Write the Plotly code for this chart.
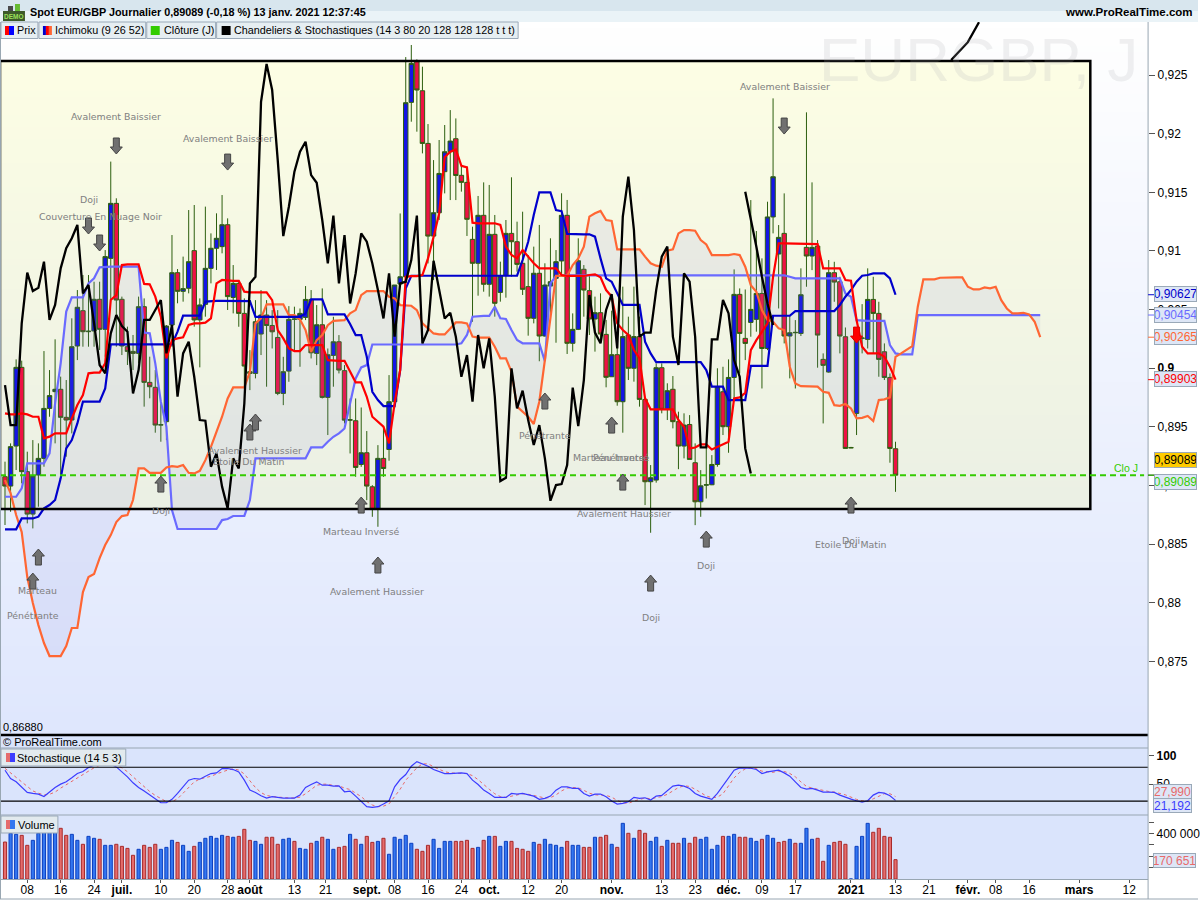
#!/usr/bin/env python3
"""Spot EUR/GBP journalier: bougies, Ichimoku, stochastique et volume"""

import plotly.graph_objects as go

# bougies journalieres (juin 2020 - 13 janv. 2021)
opens = [
    .89076, .88996, .89337, .90008, .89119, .88757, .8909, .89232, .89658, .89801,
    .89821, .89582, .89559, .9019, .90491, .90312, .90318, .90588, .90332, .90937,
    .91406, .90588, .90184, .90144, .90127, .90525, .8988, .89838, .89516, .89545,
    .90369, .90815, .90656, .90682, .91003, .90412, .90545, .90852, .91023, .91037,
    .91224, .90604, .90724, .90468, .89956, .89956, .90292, .90454, .90365, .90263,
    .89786, .89976, .90417, .90417, .90434, .90587, .90127, .90371, .89752, .9011,
    .90226, .8998, .89558, .89553, .8918, .8928, .8899, .88797, .89232, .89308,
    .89715, .90718, .9078, .92267, .92614, .92366, .91917, .91127, .91326, .91676,
    .91846, .91957, .91645, .91585, .91099, .90895, .91304, .90716, .91142, .90647,
    .90792, .9115, .91079, .90895, .90696, .90426, .9081, .90275, .90701, .90767,
    .90915, .91304, .90213, .90332, .90844, .90662, .9042, .90474, .90289, .89928,
    .90116, .89715, .90284, .9, .9027, .89735, .89033, .89047, .90005, .8965,
    .89821, .89545, .89337, .89521, .89195, .88862, .89004, .89007, .8918, .898,
    .89502, .89922, .9063, .90255, .90391, .90417, .90638, .90169, .9129, .90974,
    .9115, .90275, .90303, .90297, .91031, .90957, .91042, .90076, .89968, .90815,
    .90738, .90269, .89325, .89615, .90255, .90246, .90587, .90468, .90141, .89922,
    .89314,
]
highs = [
    .89204, .8936, .90076, .90065, .89289, .89388, .8936, .90147, .89985, .90247,
    .89929, .899, .90426, .90667, .90795, .90795, .90738, .90738, .91008, .91762,
    .91449, .90611, .90355, .90284, .90611, .90596, .90099, .89985, .89701, .90369,
    .91136, .90846, .90952, .91349, .91392, .90596, .91378, .9115, .91321, .91477,
    .91278, .9088, .90752, .90596, .90155, .90581, .90667, .90581, .90496, .90496,
    .90098, .9053, .90525, .9051, .90701, .90667, .90539, .90681, .90169, .90439,
    .90283, .90027, .89743, .89743, .89666, .89465, .89004, .89345, .89502, .89942,
    .9071, .9132, .92653, .92756, .92633, .92571, .92082, .91775, .91946, .92074,
    .92201, .9213, .91733, .91719, .91207, .91469, .91585, .91563, .91307, .90909,
    .91264, .91628, .9125, .91335, .90966, .91037, .91222, .90895, .91108, .91008,
    .91492, .91435, .90468, .91108, .9088, .90795, .90611, .90639, .90412, .90491,
    .9027, .90696, .9044, .90696, .9044, .89744, .89175, .90042, .90042, .89872,
    .89934, .8963, .89616, .89601, .8936, .89132, .89345, .8926, .9, .90013,
    .90076, .90843, .90681, .90672, .91434, .9117, .90937, .9142, .92301, .91221,
    .91491, .90454, .90411, .90852, .92182, .91585, .91093, .90127, .90923, .90908,
    .9078, .90348, .8933, .90312, .90547, .90852, .9078, .90567, .90212, .89956,
    .89374,
]
lows = [
    .88664, .88777, .89133, .89019, .88678, .88635, .8882, .89161, .89587, .8936,
    .8909, .89246, .89445, .9007, .90184, .90184, .90184, .90156, .90099, .90582,
    .90184, .90113, .90028, .89985, .90042, .89673, .89744, .89451, .89374, .89388,
    .90184, .90554, .90568, .90639, .90355, .90008, .9044, .90724, .90838, .9098,
    .90497, .90468, .90354, .89828, .89814, .89914, .90113, .89843, .90169, .89771,
    .89686, .89885, .9014, .90013, .90411, .90084, .90027, .89743, .89431, .89843,
    .89956, .8953, .89274, .89075, .8916, .88876, .88734, .88649, .89075, .89212,
    .89658, .90718, .90724, .92102, .92017, .91832, .90894, .90752, .91264, .91491,
    .91434, .91434, .91506, .91128, .90397, .90619, .90653, .90611, .9044, .90568,
    .90602, .90781, .90824, .90625, .90278, .90383, .9006, .9027, .9044, .90218,
    .90787, .90122, .90142, .90326, .9044, .90284, .90142, .90227, .89838, .89928,
    .89681, .89451, .899, .89886, .89673, .88834, .88598, .89025, .89616, .89559,
    .89488, .8914, .89232, .89223, .88663, .88734, .8889, .89004, .89161, .89431,
    .8928, .89743, .89956, .9007, .90269, .90312, .89828, .90155, .9115, .9051,
    .90212, .89914, .89828, .90275, .90695, .90837, .90005, .8953, .89962, .90567,
    .90127, .89317, .8932, .89431, .90127, .90169, .90127, .89928, .899, .89195,
    .88947,
]
closes = [
    .88996, .89332, .90008, .89119, .88757, .89082, .89232, .89658, .89767, .89821,
    .89582, .89559, .90184, .9052, .90312, .90316, .90588, .90332, .90952, .91406,
    .90582, .9019, .90144, .90127, .90525, .8988, .89843, .89516, .89519, .9036,
    .90815, .90656, .90679, .90909, .90412, .9054, .90852, .91023, .91108, .91224,
    .90611, .90724, .90468, .90019, .89971, .90397, .90454, .90365, .90311, .89786,
    .89971, .90417, .9042, .90468, .90587, .90132, .90371, .89752, .90115, .90226,
    .89985, .89558, .89561, .89155, .8928, .88996, .88797, .89232, .89146, .89715,
    .9071, .9078, .92264, .92599, .92372, .91917, .91127, .91326, .91661, .91846,
    .91937, .91644, .91585, .9127, .90895, .91304, .90716, .91142, .90554, .90787,
    .9115, .91079, .90886, .90673, .90426, .9081, .90275, .9071, .90738, .90909,
    .91304, .90213, .90332, .90917, .90667, .9042, .90474, .90292, .89923, .90116,
    .89715, .9027, .9, .9027, .89735, .89033, .89067, .90005, .8965, .89809,
    .89545, .89337, .89516, .89223, .88862, .88998, .89007, .8918, .89843, .89502,
    .89922, .9063, .90297, .90212, .90502, .90638, .90169, .9129, .91633, .91116,
    .90275, .90303, .90306, .90627, .90957, .91031, .90283, .90025, .90815, .90735,
    .90275, .89317, .89322, .90246, .90258, .90587, .90468, .90076, .89922, .89317,
    .89089,
]

# Ichimoku (9 26 52)
tenkan = [
    .89616, .89607, .89607, .89616, .89607, .89587, .89587, .89403, .89417, .89445,
    .89445, .89445, .89573, .89687, .89772, .89957, .89963, .89963, .90042, .90582,
    .90625, .9088, .90886, .90886, .90886, .90719, .90716, .90611, .9044, .90085,
    .90241, .90255, .90264, .90369, .90383, .90383, .90389, .90426, .90724, .90753,
    .90747, .90746, .90746, .90653, .90647, .90647, .90647, .90647, .90581, .90326,
    .90255, .90169, .90147, .90147, .90198, .90198, .90198, .90198, .9007, .90064,
    .90064, .90064, .89971, .8988, .8988, .89757, .89587, .89544, .89502, .8936,
    .89701, .89985, .9078, .90786, .90786, .90795, .90937, .91119, .9132, .918,
    .91846, .91866, .91725, .91713, .91241, .91236, .91236, .91236, .91236, .91222,
    .91037, .90966, .90937, .91008, .90952, .90895, .90852, .90852, .90852, .90852,
    .90795, .90787, .90787, .90787, .90787, .90795, .90801, .90775, .90667, .90611,
    .90383, .90326, .90284, .90156, .90085, .89744, .8965, .8965, .8965, .8965,
    .8965, .89559, .89502, .89317, .89325, .89351, .89351, .89308, .89331, .89351,
    .89374, .89743, .89752, .89791, .90155, .9024, .90312, .90383, .9078, .91065,
    .91065, .91065, .91065, .91065, .91065, .91065, .91059, .90852, .90852, .90852,
    .90852, .90752, .90746, .90411, .90184, .90127, .90127, .90127, .90098, .90013,
    .89903,
]
kijun = (
    [.88627, .88627, .88627, .8872, .8872, .8872, .88735, .88806, .88834, .88877,
     .89062, .89317, .89388, .8953, .89715, .89715, .89715, .89715, .89829]
    + [.90204] * 12
    + [.90312, .90449, .90449, .90449, .90449, .90568, .90574, .90574, .90574, .90574]
    + [.90573] * 4 + [.90439] * 9
    + [.90468, .90587, .90587, .90587, .90459, .90459, .90459, .90459, .90377, .90283,
       .90283, .90098, .898, .89729, .89678, .89678, .89678, .89985, .90681]
    + [.90789] * 20
    + [.90923, .91079, .91307, .915, .915, .915, .91349, .9134, .91145, .91142,
       .91142, .91142, .91142, .91122, .90937, .90767, .90738, .90639, .9054, .9054,
       .9054, .9054, .90227, .90127]
    + [.90053] * 9
    + [.89985, .89843, .89843, .89843, .89729, .89729, .89729, .89729, .9002, .9002,
       .9002, .9002, .90448, .90448, .90448, .90448]
    + [.90488] * 8
    + [.9054, .9061, .90667, .90738, .90789, .90795, .90809, .90809, .90809, .90766,
       .90627]
)
senkou_a = [
    .89047, .88936, .88749, .88604, .8822, .87999, .87811, .87658, .87547, .87547,
    .87547, .87632, .87786, .87786, .88093, .8822, .88246, .88382, .88493, .88578,
    .88689, .8874, .88749, .88877, .89146, .89146, .89109, .89109, .89109, .89155,
    .89166, .8916, .89175, .89109, .89104, .89126, .89217, .89331, .89459, .89587,
    .89743, .89837, .89837, .89837, .89971, .90383, .90425, .90545, .90545, .90545,
    .90545, .90454, .90454, .90417, .90326, .9014, .9024, .90283, .90368, .90405,
    .90405, .90411, .90468, .90496, .90624, .90658, .90658, .90658, .90658, .9061,
    .90596, .90539, .90539, .90533, .90496, .90383, .9034, .90297, .90289, .90289,
    .9034, .90391, .90392, .90383, .9027, .90261, .90261, .90261, .90184, .90085,
    .90085, .89971, .89673, .8963, .89587, .89525, .89715, .9007, .9044, .90787,
    .90787, .90787, .9088, .90937, .91037, .91293, .91321, .91341, .91264, .91256,
    .91014, .91014, .91014, .91014, .91014, .90952, .90895, .90875, .90866, .91003,
    .91014, .9115, .91179, .91178, .91173, .91093, .91056, .90965, .90965, .90965,
    .90965, .90974, .90965, .90866, .90709, .90653, .90496, .90411, .90397, .9034,
    .90326, .90013, .89871, .89848, .89848, .89848, .89843, .898, .89791, .89686,
    .8968, .89695, .89658, .89573, .89578, .89593, .8955, .89729, .89735, .89752,
    .90098, .90127, .90155, .90189, .90525, .90758, .90758, .90758, .90772, .90775,
    .90775, .90775, .90775, .90695, .90672, .90672, .90689, .90681, .90695, .90581,
    .9051, .90468, .90468, .90473, .90459, .90397, .90265,
]
senkou_b = (
    [.88905, .88905, .88905, .88976, .8919, .8919, .8919, .8919, .89275, .89701,
     .90042, .90483, .90605, .90605, .90605, .90724, .90767, .90861]
    + [.90866] * 7
    + [.90304, .90298, .90042, .89715, .89502, .88792]
    + [.8863] * 8
    + [.88706, .88715, .88741, .88741, .88741, .88877]
    + [.89232] * 10
    + [.89325, .89325, .89325, .89374, .89416, .89445, .89487, .897, .89914, .90007,
       .90027]
    + [.90203] * 16
    + [.90213, .90284, .9044, .90446, .90446, .90446, .90525, .90426, .9042, .90326,
       .90241, .90213, .90213, .90213, .90213, .9006, .90724, .90787]
    + [.90792] * 41
    + [.9078]
    + [.90766] * 9
    + [.90638, .9061, .90411, .90405, .90405, .90405, .90405, .90405, .90198, .90127,
       .90118, .90118, .90118]
    + [.90454] * 23
)

# Chandeliers & Stochastiques
black_line = [
    .89857, .89516, .89516, .90383, .90815, .90659, .90687, .90909, .90412, .9054,
    .90852, .91023, .91108, .91222, .90639, .9071, .90383, .90028, .89957, .90298,
    .90454, .9036, .90312, .89786, .89985, .90412, .90412, .90497, .90582, .90127,
    .90369, .89758, .90127, .90227, .89928, .89559, .89553, .89161, .89275, .88991,
    .88806, .89232, .89146, .897, .90724, .9078, .92272, .92594, .92372, .91775,
    .91127, .91377, .91676, .91846, .91931, .91647, .91582, .91264, .90894, .91301,
    .90724, .91136, .90553, .90809, .9115, .91079, .90894, .90667, .90425, .90809,
    .90269, .90724, .90738, .90923, .91301, .90212, .90326, .90917, .90667, .90425,
    .90473, .90269, .89928, .90113, .89715, .90284, .9, .90255, .89758, .89039,
    .89067, .9, .89658, .89809, .89559, .89346, .89516, .89232, .88871, .89005,
    .89013, .89175, .89835, .89508, .899, .90625, .90304, .90213, .90497, .90633,
    .9017, .91293, .91634, .91179, .9027, .90304, .90304, .90667, .90952, .91037,
    .9027, .90028, .9081, .90738, .90269, .89325, .89325, .90246, .90246, .90582,
    .90468, .9007, .89928, .89317, .89104,
]
black_line2 = [.91505, .91278, .91036, .9078, .90553, .90368]
black_line2_start = 133
black_line3 = [.92628, .9278, .9295]
black_line3_bars = [170, 173, 175]

# Stochastique (14 5 3)
stoch_k = [
    74.7, 60, 54.1, 45.3, 35.3, 33.5, 32.4, 28.2, 36.5, 44.1,
    50, 54.1, 61.2, 68.8, 72.4, 79.4, 83.5, 86.5, 86.5, 85.3,
    80.6, 71.8, 63, 52.4, 44.1, 37.7, 30.6, 23.5, 17, 17,
    23, 33.5, 45.3, 57.1, 60, 58.8, 64.1, 68.8, 70, 77.7,
    77.7, 75.9, 71.8, 57.1, 39.4, 35.3, 29.4, 25.3, 27.7, 25.9,
    25.3, 25.3, 25.3, 30.6, 44.1, 49.4, 54.1, 48.2, 48.2, 46.5,
    47, 36.5, 37.7, 28.8, 18.8, 10, 8.8, 10, 14.7, 20.6,
    45.3, 58.2, 67.1, 81.8, 90, 86.5, 81.8, 75.9, 71.8, 68.8,
    68.8, 70, 70, 68.8, 57.1, 49.4, 39.4, 33.5, 26.5, 26.5,
    26.5, 33.5, 32.4, 33.5, 30.6, 28.8, 23, 24.7, 28.8, 39.4,
    45.3, 45.3, 42.4, 42.4, 33.5, 28.8, 32.4, 32.4, 27.7, 20,
    14.7, 15.9, 18.8, 26.5, 24.7, 25.9, 21.8, 28.8, 30, 37.7,
    46.5, 48.2, 46.5, 42.4, 33.5, 28.8, 25.3, 23, 33.5, 46.5,
    60, 74.7, 78.8, 78.2, 78.2, 75.9, 68.8, 71.8, 73.5, 74.7,
    70, 64.1, 54.1, 44.1, 41.2, 42.4, 39.4, 35.9, 35.9, 35.3,
    30.6, 26.5, 23.5, 20.6, 18.2, 20.6, 30.6, 35.3, 34.1, 29.4,
    21.19,
]
stoch_d = [
    78, 70, 62, 53, 45, 38, 34, 31, 32, 36,
    43, 49, 55, 61, 67, 73, 79, 83, 85.5, 86,
    84, 79, 72, 63, 54, 45, 37, 30, 24, 19,
    19, 24, 34, 45, 54, 59, 61, 64, 68, 72,
    75, 77, 75, 68, 56, 44, 35, 30, 28, 27,
    26, 25.5, 25.5, 27, 33, 41, 48, 50, 50, 47.5,
    47, 43, 40.5, 34, 28, 19, 13, 10, 11, 15,
    27, 41, 57, 69, 79, 86, 86, 81, 76, 72,
    70, 69, 69, 69, 65, 58, 49, 41, 33, 28,
    26.5, 29, 30.5, 33, 32, 30, 27, 25.5, 26, 31,
    38, 43, 44, 43.5, 39, 34, 31, 31, 30, 27,
    21, 17, 16, 20, 23, 25.5, 24, 26, 28, 32,
    38, 44, 47, 46, 41, 35, 29, 26, 27, 33,
    47, 61, 71, 77, 78.5, 77.5, 73, 72, 71, 73,
    72.5, 69, 63, 54, 46, 43, 41, 38, 37, 36,
    34, 31, 27, 23, 20.5, 19.5, 24, 29, 33, 33,
    27.99,
]

# Volume (milliers)
volume_k = [
    326, 403, 394, 385, 297, 341, 403, 432, 420, 420,
    447, 385, 394, 341, 306, 376, 359, 350, 297, 297,
    306, 288, 270, 209, 262, 297, 279, 306, 262, 279,
    341, 323, 297, 244, 288, 323, 359, 376, 359, 385,
    376, 368, 376, 438, 341, 332, 306, 368, 368, 306,
    350, 359, 332, 270, 262, 315, 332, 368, 350, 262,
    279, 288, 394, 350, 306, 376, 323, 332, 359, 218,
    368, 350, 385, 315, 262, 244, 297, 350, 270, 332,
    332, 332, 332, 341, 270, 279, 341, 376, 376, 288,
    332, 332, 270, 262, 244, 323, 306, 350, 306, 297,
    279, 332, 297, 297, 279, 279, 368, 368, 385, 306,
    279, 491, 403, 359, 429, 403, 332, 368, 288, 341,
    315, 315, 359, 315, 368, 350, 368, 262, 297, 376,
    376, 394, 368, 368, 359, 332, 350, 385, 359, 323,
    332, 350, 315, 315, 447, 350, 359, 156, 297, 323,
    332, 306, 0, 288, 376, 491, 412, 447, 376, 368,
    170.651,
]
volume_side = (
    "rbbrrbbbbb" "rrbbrbbrbb" "rrrrbrrrbb" "brbbrbbbbb" "rbrrrbbrrr"
    "bbrbbrbrbb" "rrbrbrrbrb" "bbbbrrrbbb" "brrrrbrbrb" "brrrrbrbbb"
    "brbbrrbrrb" "rbrbrrbbrb" "rrbrrbbbbr" "bbrrbbrbbr" "rbrbbbrrbr"
    "rrbbbbrrrrr"
)

# motifs de bougies: barre, cours
down_arrow_bars = [20, 40, 15, 17, 140]
down_arrow_prices = [.91895, .91758, .91213, .91068, .92065]
up_arrow_bars = [6, 5, 28, 44, 45, 64, 67, 97, 109, 111, 116, 126, 152]
up_arrow_prices = [.88391, .88186, .89013, .89457, .89542, .88834, .88323, .89721,
                   .89516, .8903, .88169, .88544, .88834]
signal_bar = 153
signal_price = .90283
pattern_names = [
    "Avalement Baissier", "Avalement Baissier", "Avalement Baissier", "Doji",
    "Couverture En Nuage Noir", "Marteau", "Pénétrante", "Doji", "Avalement Haussier",
    "Etoile Du Matin", "Marteau Inversé", "Avalement Haussier", "Pénétrante",
    "Marteau Inversé", "Pénétrante", "Avalement Haussier", "Doji", "Doji", "Doji",
    "Etoile Du Matin",
]
pattern_bars = [19.9, 40, 140.1, 15.1, 17.2, 5.9, 5, 28, 45, 43.8,
                64, 66.9, 97, 109, 110.3, 111.2, 116, 126, 152, 152]
pattern_prices = [.9215, .91963, .92398, .91443, .91298, .8811, .87896, .88792, .89295,
                  .89209, .88613, .88101, .89431, .89243, .89243, .88758, .87879, .88323,
                  .88536, .88502]

# axes
x_tick_bars = [4, 10, 16, 21, 28, 34, 40, 44, 52, 57.6, 65, 70, 76, 82, 87, 94, 100, 109,
               118, 124, 130, 136, 142, 152, 160, 166, 173, 178, 184, 193, 202]
x_tick_labels = ["08", "16", "24", "<b>juil.</b>", "10", "20", "28", "<b>août</b>", "13",
                 "21", "<b>sept.</b>", "08", "16", "24", "<b>oct.</b>", "12", "20",
                 "<b>nov.</b>", "13", "23", "<b>déc.</b>", "09", "17", "<b>2021</b>", "13",
                 "21", "<b>févr.</b>", "08", "16", "<b>mars</b>", "12"]
price_ticks = [.925, .92, .915, .91, .905, .9, .895, .89, .885, .88, .875]
price_tick_labels = ["0,925", "0,92", "0,915", "0,91", "0,905", "<b>0,9</b>", "0,895", "0,89",
                     "0,885", "0,88", "0,875"]
price_range = [.86891, .92952]
bar_range = [-0.9, 205.38]
frame_prices = [.8880, .92619]
frame_last_bar = 195

FONT = "Liberation Sans"
WICK = "#2d5f0f"
RED = "#ee1144"
BLUE = "#1414e6"
GREY_TEXT = "#808080"


def px(x):
    return x / 1200


def py(y):
    return 1 - y / 900


def mix(c1, c2, t):
    a = [int(c1[i:i + 2], 16) for i in (1, 3, 5)]
    b = [int(c2[i:i + 2], 16) for i in (1, 3, 5)]
    return "rgb(%d,%d,%d)" % tuple(a[k] + (b[k] - a[k]) * t for k in range(3))


def band(x0, x1, y0, y1, color, layer="below", line=None):
    return dict(type="rect", xref="paper", yref="paper", x0=px(x0), x1=px(x1),
                y0=py(y1), y1=py(y0), fillcolor=color, layer=layer,
                line=line or dict(width=0))


def hline(x0, x1, y, color, width=1):
    return dict(type="line", xref="paper", yref="paper", x0=px(x0), x1=px(x1),
                y0=py(y), y1=py(y), line=dict(color=color, width=width))


def vline(x, y0, y1, color, width=1):
    return dict(type="line", xref="paper", yref="paper", x0=px(x), x1=px(x),
                y0=py(y1), y1=py(y0), line=dict(color=color, width=width))


def label(x, y, text, size=11, color="black", anchor="left", family=FONT, **kw):
    # les annotations ont 2 px de marge interne
    if anchor == "left":
        x -= 2
    elif anchor == "right":
        x += 2
    return dict(xref="paper", yref="paper", x=px(x), y=py(y), text=text, showarrow=False,
                xanchor=anchor, yanchor="middle", font=dict(family=family, size=size, color=color),
                **kw)


def arrow(bar, price, up=True, fill="#707070", edge="#454545"):
    s = 1 if up else -1
    path = "M -3 %d L 3 %d L 3 %d L 6 %d L 0 %d L -6 %d L -3 %d Z" % (
        -8 * s, -8 * s, 1 * s, 1 * s, 8 * s, 1 * s, 1 * s)
    return dict(type="path", path=path, xref="x", yref="y", xsizemode="pixel", ysizemode="pixel",
                xanchor=bar, yanchor=price, fillcolor=fill, line=dict(color=edge, width=1))


fig = go.Figure()

bars = list(range(len(closes)))

# le nuage puis les lignes
fig.add_trace(go.Scatter(x=list(range(len(senkou_b))), y=senkou_b, mode="lines",
                         line=dict(color="#6a6aff", width=2.2)))
fig.add_trace(go.Scatter(x=list(range(len(senkou_a))), y=senkou_a, mode="lines",
                         line=dict(color="#ff6633", width=2.2), fill="tonexty",
                         fillcolor="rgba(130,130,215,0.11)"))
fig.add_trace(go.Candlestick(x=bars, open=opens, high=highs, low=lows, close=closes,
                             whiskerwidth=0,
                             increasing=dict(fillcolor=BLUE, line=dict(color=WICK, width=1)),
                             decreasing=dict(fillcolor=RED, line=dict(color=WICK, width=1))))
fig.add_trace(go.Scatter(x=list(range(len(kijun))), y=kijun, mode="lines",
                         line=dict(color="#0000cc", width=2.2)))
fig.add_trace(go.Scatter(x=list(range(len(tenkan))), y=tenkan, mode="lines",
                         line=dict(color="#ff0000", width=2.2)))
fig.add_trace(go.Scatter(x=list(range(len(black_line))), y=black_line, mode="lines",
                         line=dict(color="black", width=2.3)))
fig.add_trace(go.Scatter(x=[black_line2_start + i for i in range(len(black_line2))], y=black_line2,
                         mode="lines", line=dict(color="black", width=2.3)))
fig.add_trace(go.Scatter(x=black_line3_bars, y=black_line3, mode="lines",
                         line=dict(color="black", width=2.3)))

# stochastique
fig.add_trace(go.Scatter(x=bars, y=stoch_d, mode="lines", xaxis="x2", yaxis="y2",
                         line=dict(color="#e86a6a", width=1, dash="3px,3px")))
fig.add_trace(go.Scatter(x=bars, y=stoch_k, mode="lines", xaxis="x2", yaxis="y2",
                         line=dict(color="#3c3cff", width=1.2)))

# volume
fig.add_trace(go.Bar(x=bars, y=[v * 1000 for v in volume_k], xaxis="x3", yaxis="y3", width=0.56,
                     marker=dict(color=["#e56c6c" if s == "r" else "#3376f0" for s in volume_side],
                                 line=dict(color=["#a82a2a" if s == "r" else "#0c3fc0" for s in volume_side],
                                           width=1))))

shapes = []

# fonds en degrade
for y in range(22, 734, 6):
    shapes.append(band(0, 1150, y, min(y + 6, 734), mix("#ffffff", "#dfe7fd", (y - 22) / 712)))
for y in range(61, 509, 6):
    shapes.append(band(0, 1092, y, min(y + 6, 509), mix("#fdfee4", "#ebf0e4", (y - 61) / 448)))
shapes.append(band(0, 1150, 735, 879, "#dae4fc"))

# cadre noir et seuils
shapes.append(dict(type="rect", xref="x", yref="y", x0=bar_range[0], x1=frame_last_bar,
                   y0=frame_prices[0], y1=frame_prices[1], line=dict(color="black", width=2.5)))
shapes.append(dict(type="line", xref="paper", yref="y", x0=0, x1=px(1146), y0=closes[-1], y1=closes[-1],
                   line=dict(color="#33cc00", width=2, dash="6px,4px")))
for level in (80, 20):
    shapes.append(dict(type="line", xref="paper", yref="y2", x0=0, x1=px(1150), y0=level, y1=level,
                       line=dict(color="black", width=1.2)))

for b, p in zip(down_arrow_bars, down_arrow_prices):
    shapes.append(arrow(b, p, up=False))
for b, p in zip(up_arrow_bars, up_arrow_prices):
    shapes.append(arrow(b, p, up=True))
shapes.append(arrow(signal_bar, signal_price, up=False, fill="#ff0000", edge="#dd0000"))

# lignes de separation
shapes.append(hline(0, 1150, 735, "black", 2.5))
shapes.append(hline(0, 1150, 748, "#98a6b2", 1))
shapes.append(hline(0, 1150, 815, "#98a6b2", 1))
shapes.append(hline(0, 1150, 879.5, "#98a6b2", 1))
shapes.append(hline(0, 1200, 899, "#98a6b2", 1))
shapes.append(vline(0.5, 22, 899, "#98a6b2", 1))
shapes.append(vline(1150, 22, 899, "#98a6b2", 1))

# bandeau du haut et legendes
shapes.append(band(0, 1200, 0, 11, "#d8e6ee", layer="above"))
shapes.append(band(0, 1200, 11, 22, "#eaf3f7", layer="above"))
box_line = dict(color="#9aa9b8", width=1)
for x0, x1 in ((1, 38), (39, 146), (147, 216), (217, 519)):
    shapes.append(band(x0, x1, 22, 38.5, "#e6eef2", layer="above", line=box_line))
shapes.append(band(1, 126, 749, 766, "#e2eaee", layer="above", line=box_line))
shapes.append(band(1, 58, 816, 833, "#e2eaee", layer="above", line=box_line))

for x0, x1, color in ((5, 9, "#ff0000"), (9, 14, "#0000ff"), (43, 46, "#0000cc"), (46, 49, "#ff0000"),
                      (49, 52, "#ff6633"), (151, 160, "#33cc00"), (222, 231, "black")):
    shapes.append(band(x0, x1, 26, 35, color, layer="above"))
shapes.append(band(6, 10, 753, 762, "#e56c6c", layer="above"))
shapes.append(band(10, 15, 753, 762, "#3c3cff", layer="above"))
shapes.append(band(6, 10, 820, 829, "#e56c6c", layer="above"))
shapes.append(band(10, 15, 820, 829, "#3376f0", layer="above"))

# icone DEMO
shapes.append(band(3, 25, 11, 21, "#3d5a2a", layer="above"))
shapes.append(band(8, 13, 6, 11, "#4a4a4a", layer="above"))
shapes.append(band(15, 20, 4, 11, "#66bb33", layer="above"))

annotations = []
for name, b, p in zip(pattern_names, pattern_bars, pattern_prices):
    annotations.append(dict(x=b, y=p, xref="x", yref="y", text=name, showarrow=False,
                            font=dict(family="DejaVu Sans", size=9.4, color=GREY_TEXT)))

annotations += [
    label(30, 12, "<b>Spot EUR/GBP Journalier 0,89089 (-0,18 %) 13 janv. 2021 12:37:45</b>", 10.8),
    label(1195, 12, "<b>www.ProRealTime.com</b>", 11.5, anchor="right"),
    label(14, 16.5, "<b>DEMO</b>", 6.5, "#9be05a", anchor="center"),
    label(17, 30, "Prix", 10.8),
    label(55, 30, "Ichimoku (9 26 52)", 10.8),
    label(164, 30, "Clôture (J)", 10.8),
    label(234, 30, "Chandeliers &amp; Stochastiques (14 3 80 20 128 128 128 t t t)", 10.8),
    label(17, 758, "Stochastique (14 5 3)", 11),
    label(18, 825, "Volume", 11),
    label(3, 742, "© ProRealTime.com", 11),
    label(3, 727, "0,86880", 11),
    label(1128, 468, "Clo J", 10.5, "#33cc00", anchor="center"),
    label(980, 60, "EURGBP, J", 62, "rgba(170,170,180,0.18)", anchor="center"),
]

# etiquettes de valeurs a droite
value_boxes = [
    ("0,90627", 294, "#0000cc", "#dde6f6", kijun[160]),
    ("0,90454", 315, "#6a6aff", "#dde6f6", senkou_b[-1]),
    ("0,90265", 337, "#ff6633", "#dde6f6", senkou_a[-1]),
    ("0,89903", 379, "#ff0000", "#dde6f6", tenkan[-1]),
    ("0,89089", 460, "black", "#ffcc00", closes[-1]),
    ("0,89089", 482, "#33cc00", "#dde6f6", closes[-1]),
]
for text, y, color, bg, level in value_boxes:
    annotations.append(label(1177, y, text, 12, color, anchor="center", bgcolor=bg,
                             bordercolor="#9aa9b8", borderwidth=1, borderpad=0, width=41, height=14))
    shapes.append(dict(type="line", xref="paper", yref="y", x0=px(1150), x1=px(1156), y0=level, y1=level,
                       line=dict(color=color, width=1)))
for text, y, color, size in (("27,990", 791, "#e86a6a", 12), ("21,192", 805, "#3c3cff", 12)):
    annotations.append(label(1174, y, text, size, color, anchor="center", bgcolor="#dde6f6",
                             bordercolor="#9aa9b8", borderwidth=1, borderpad=0, width=37, height=13))
annotations.append(label(1176, 860, "170 651", 12, "#e86a6a", anchor="center", bgcolor="#dde6f6",
                         bordercolor="#9aa9b8", borderwidth=1, borderpad=0, width=41, height=13))

common_x = dict(range=bar_range, showgrid=False, zeroline=False, showticklabels=False, fixedrange=True)
tick_font = dict(family=FONT, size=12, color="black")

fig.update_layout(
    width=1200, height=900,
    margin=dict(l=0, r=0, t=0, b=0),
    paper_bgcolor="white", plot_bgcolor="rgba(0,0,0,0)",
    showlegend=False, boxgap=0.12, boxgroupgap=0.1, bargap=0.2,
    font=dict(family=FONT),
    xaxis=dict(common_x, domain=[0, px(1150)], anchor="y", rangeslider=dict(visible=False)),
    xaxis2=dict(common_x, domain=[0, px(1150)], anchor="y2"),
    xaxis3=dict(common_x, domain=[0, px(1150)], anchor="y3", showticklabels=True, ticks="outside",
                ticklen=3, tickcolor="#555555", tickvals=x_tick_bars, ticktext=x_tick_labels,
                tickangle=0, tickfont=tick_font, ticklabelstandoff=-3),
    yaxis=dict(domain=[py(733), py(22)], range=price_range, side="right", anchor="x", showgrid=False,
               zeroline=False, fixedrange=True, ticks="outside", ticklen=6, tickcolor="#555555",
               tickvals=price_ticks, ticktext=price_tick_labels, tickfont=tick_font),
    yaxis2=dict(domain=[py(815), py(748)], range=[-4.7, 114.1], side="right", anchor="x2", showgrid=False,
                zeroline=False, fixedrange=True, ticks="outside", ticklen=5, tickcolor="#555555",
                tickvals=[100, 50], ticktext=["<b>100</b>", "50"], tickfont=tick_font),
    yaxis3=dict(domain=[py(879), py(815)], range=[0, 564500], side="right", anchor="x3", showgrid=False,
                zeroline=False, fixedrange=True, ticks="outside", ticklen=5, tickcolor="#555555",
                tickvals=[100000, 200000, 300000, 400000, 500000], ticktext=["", "", "", "400 000", ""],
                tickfont=tick_font),
    shapes=shapes,
    annotations=annotations,
)

fig.write_html("out.html", post_script="document.body.style.margin='0';",
               config=dict(displayModeBar=False))
